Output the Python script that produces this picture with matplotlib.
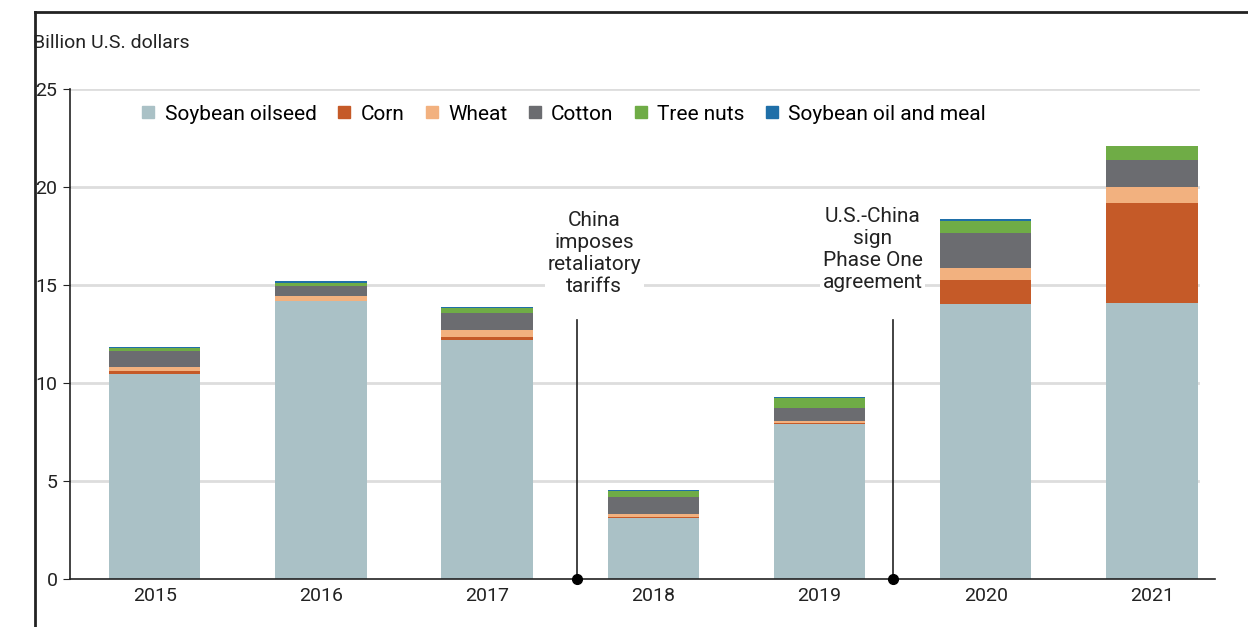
import matplotlib.pyplot as plt
import numpy as np
from matplotlib.lines import Line2D

plt.rcParams['font.family'] = ['Roboto', 'DejaVu Sans']

years = ['2015', '2016', '2017', '2018', '2019', '2020', '2021']
soybean = [10.46, 14.18, 12.19, 3.1, 7.9, 14.03, 14.08]
corn = [0.15, 0.02, 0.15, 0.05, 0.05, 1.22, 5.1]
wheat = [0.2, 0.25, 0.35, 0.15, 0.1, 0.6, 0.8]
cotton = [0.8, 0.5, 0.9, 0.9, 0.7, 1.8, 1.4]
tree_nuts = [0.2, 0.15, 0.25, 0.3, 0.5, 0.6, 0.7]
soy_oil = [0.05, 0.1, 0.03, 0.02, 0.02, 0.1, 0.02]

series = [('Soybean oilseed', soybean, '#aac1c6'),
          ('Corn', corn, '#c55a28'),
          ('Wheat', wheat, '#f2b17f'),
          ('Cotton', cotton, '#6b6c70'),
          ('Tree nuts', tree_nuts, '#6fac46'),
          ('Soybean oil and meal', soy_oil, '#1f6fa8')]

fig = plt.figure(figsize=(12.48, 6.27), dpi=100, facecolor='white')
# frame lines
fig.add_artist(Line2D([35/1248, 35/1248], [0, 1 - 12/627], color='#222222', lw=2))
fig.add_artist(Line2D([35/1248, 1], [1 - 12/627, 1 - 12/627], color='#222222', lw=2))
fig.text(33/1248, 1 - 43/627, 'Billion U.S. dollars', fontsize=14, va='center', color='#222222')

ax = fig.add_axes([70/1248, 48/627, 1145/1248, (579-89)/627 * 1])
ax.set_ylim(0, 25)
x = np.arange(len(years))
ax.set_xlim(-0.51, 6.38)
for y in [5, 10, 15, 20, 25]:
    ax.axhline(y, color='#dddddd', lw=2, zorder=0, xmax=0.985)
bottom = np.zeros(len(years))
for name, vals, col in series:
    ax.bar(x, vals, 0.55, bottom=bottom, color=col, zorder=2)
    bottom += np.array(vals)

ax.set_xticks(x, years)
ax.set_yticks([0, 5, 10, 15, 20, 25])
ax.tick_params(axis='both', labelsize=14, length=0, pad=6, colors='#222222')
ax.tick_params(axis='y', length=5, direction='out', pad=4)
for s in ['top', 'right']:
    ax.spines[s].set_visible(False)
ax.spines['left'].set_color('#222222')
ax.spines['bottom'].set_color('#222222')
ax.spines['left'].set_linewidth(1.2)
ax.spines['bottom'].set_linewidth(1.2)

handles = [plt.Line2D([], [], marker='s', ls='none', color=c, markersize=8) for _, _, c in series]
leg = ax.legend(handles, [n for n, _, _ in series], loc='upper left', bbox_to_anchor=(0.043, 0.985),
                ncol=6, frameon=True, fontsize=15, handletextpad=-0.2, columnspacing=0.3,
                borderaxespad=0, edgecolor='white', facecolor='white', framealpha=1)
leg.set_zorder(5)

ann = [(2.54, 2.645, 'China\nimposes\nretaliatory\ntariffs', 16.6, 13.2),
       (4.44, 4.32, 'U.S.-China\nsign\nPhase One\nagreement', 16.8, 13.2)]
for xp, xt, txt, ytxt, ytop in ann:
    ax.plot([xp, xp], [0, ytop], color='#222222', lw=1.2, zorder=3, clip_on=False)
    ax.plot(xp, 0, 'o', color='black', markersize=7, zorder=4, clip_on=False)
    ax.text(xt, ytxt, txt, ha='center', va='center', fontsize=15,
            linespacing=1.2, color='#222222', zorder=4,
            bbox=dict(facecolor='white', edgecolor='none', pad=2))

fig.savefig('out.png', dpi=100)
